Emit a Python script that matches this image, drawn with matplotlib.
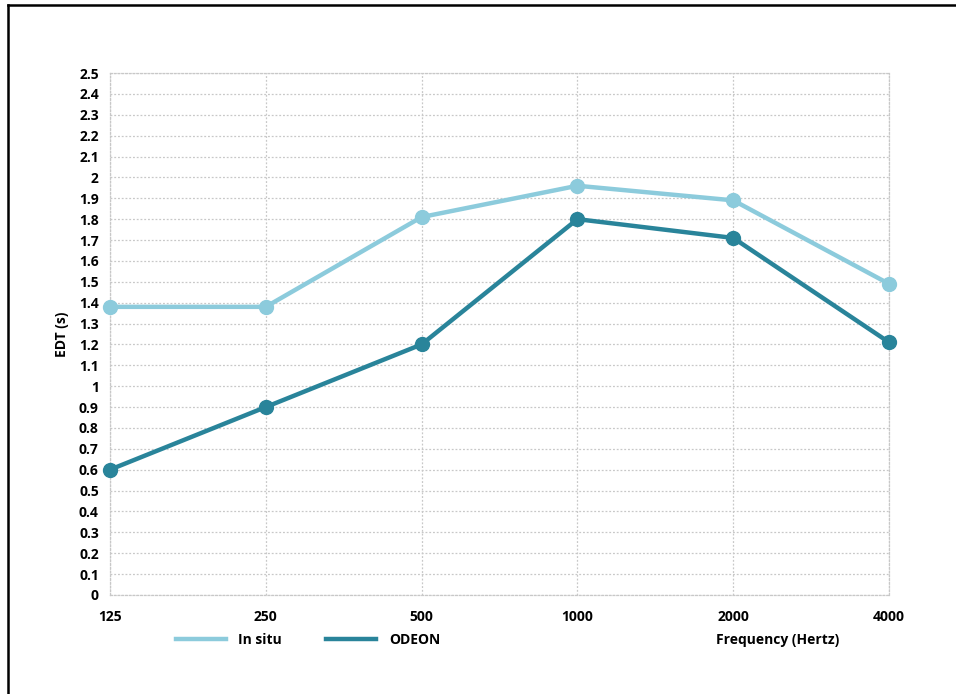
import matplotlib.pyplot as plt
from matplotlib.lines import Line2D

plt.rcParams['font.family'] = ['Open Sans', 'DejaVu Sans']
plt.rcParams['font.weight'] = 'bold'

frequencies = ['125', '250', '500', '1000', '2000', '4000']
in_situ = [1.38, 1.38, 1.81, 1.96, 1.89, 1.49]
odeon = [0.60, 0.90, 1.20, 1.80, 1.71, 1.21]
y_ticks = [round(i * 0.1, 1) for i in range(26)]
y_tick_labels = ['0', '0.1', '0.2', '0.3', '0.4', '0.5', '0.6', '0.7', '0.8', '0.9', '1',
                 '1.1', '1.2', '1.3', '1.4', '1.5', '1.6', '1.7', '1.8', '1.9', '2',
                 '2.1', '2.2', '2.3', '2.4', '2.5']

fig = plt.figure(figsize=(9.56, 6.94), dpi=100)
ax = fig.add_axes([0.115, 0.1427, 0.815, 0.7521])

x = list(range(len(frequencies)))
ax.plot(x, in_situ, color='#8ccbdc', lw=3.2, marker='o', ms=10, label='In situ',
        zorder=3, clip_on=False)
ax.plot(x, odeon, color='#29849a', lw=3.2, marker='o', ms=10, label='ODEON',
        zorder=4, clip_on=False)

ax.set_xlim(0, len(frequencies) - 1)
ax.set_ylim(0, 2.5)
ax.set_xticks(x)
ax.set_xticklabels(frequencies, fontsize=10, fontweight='bold')
ax.set_yticks(y_ticks)
ax.set_yticklabels(y_tick_labels, fontsize=10, fontweight='bold')
ax.tick_params(length=0, pad=8)
ax.tick_params(axis='x', pad=11)
ax.grid(True, color='#c8c8c8', linestyle=(0, (1.5, 1.5)), lw=0.9)
for s in ax.spines.values():
    s.set_color('#c8c8c8')
    s.set_linestyle((0, (1.5, 1.5)))
    s.set_linewidth(0.9)
ax.set_ylabel('EDT (s)', fontsize=10, fontweight='bold', labelpad=7)

fig.legend(loc='center', bbox_to_anchor=(0.322, 0.078), ncol=2, frameon=False,
           fontsize=10, handlelength=3.6, columnspacing=3.2, handletextpad=0.9,
           markerscale=0)
fig.text(0.813, 0.078, 'Frequency (Hertz)', ha='center', va='center', fontsize=10, fontweight='bold')

# border at top and left
fig.add_artist(Line2D([0.0084, 1], [0.9928, 0.9928], color='black', lw=1.8, transform=fig.transFigure))
fig.add_artist(Line2D([0.0084, 0.0084], [0, 0.9928], color='black', lw=1.8, transform=fig.transFigure))

fig.savefig('out.png', dpi=100, facecolor='white')
